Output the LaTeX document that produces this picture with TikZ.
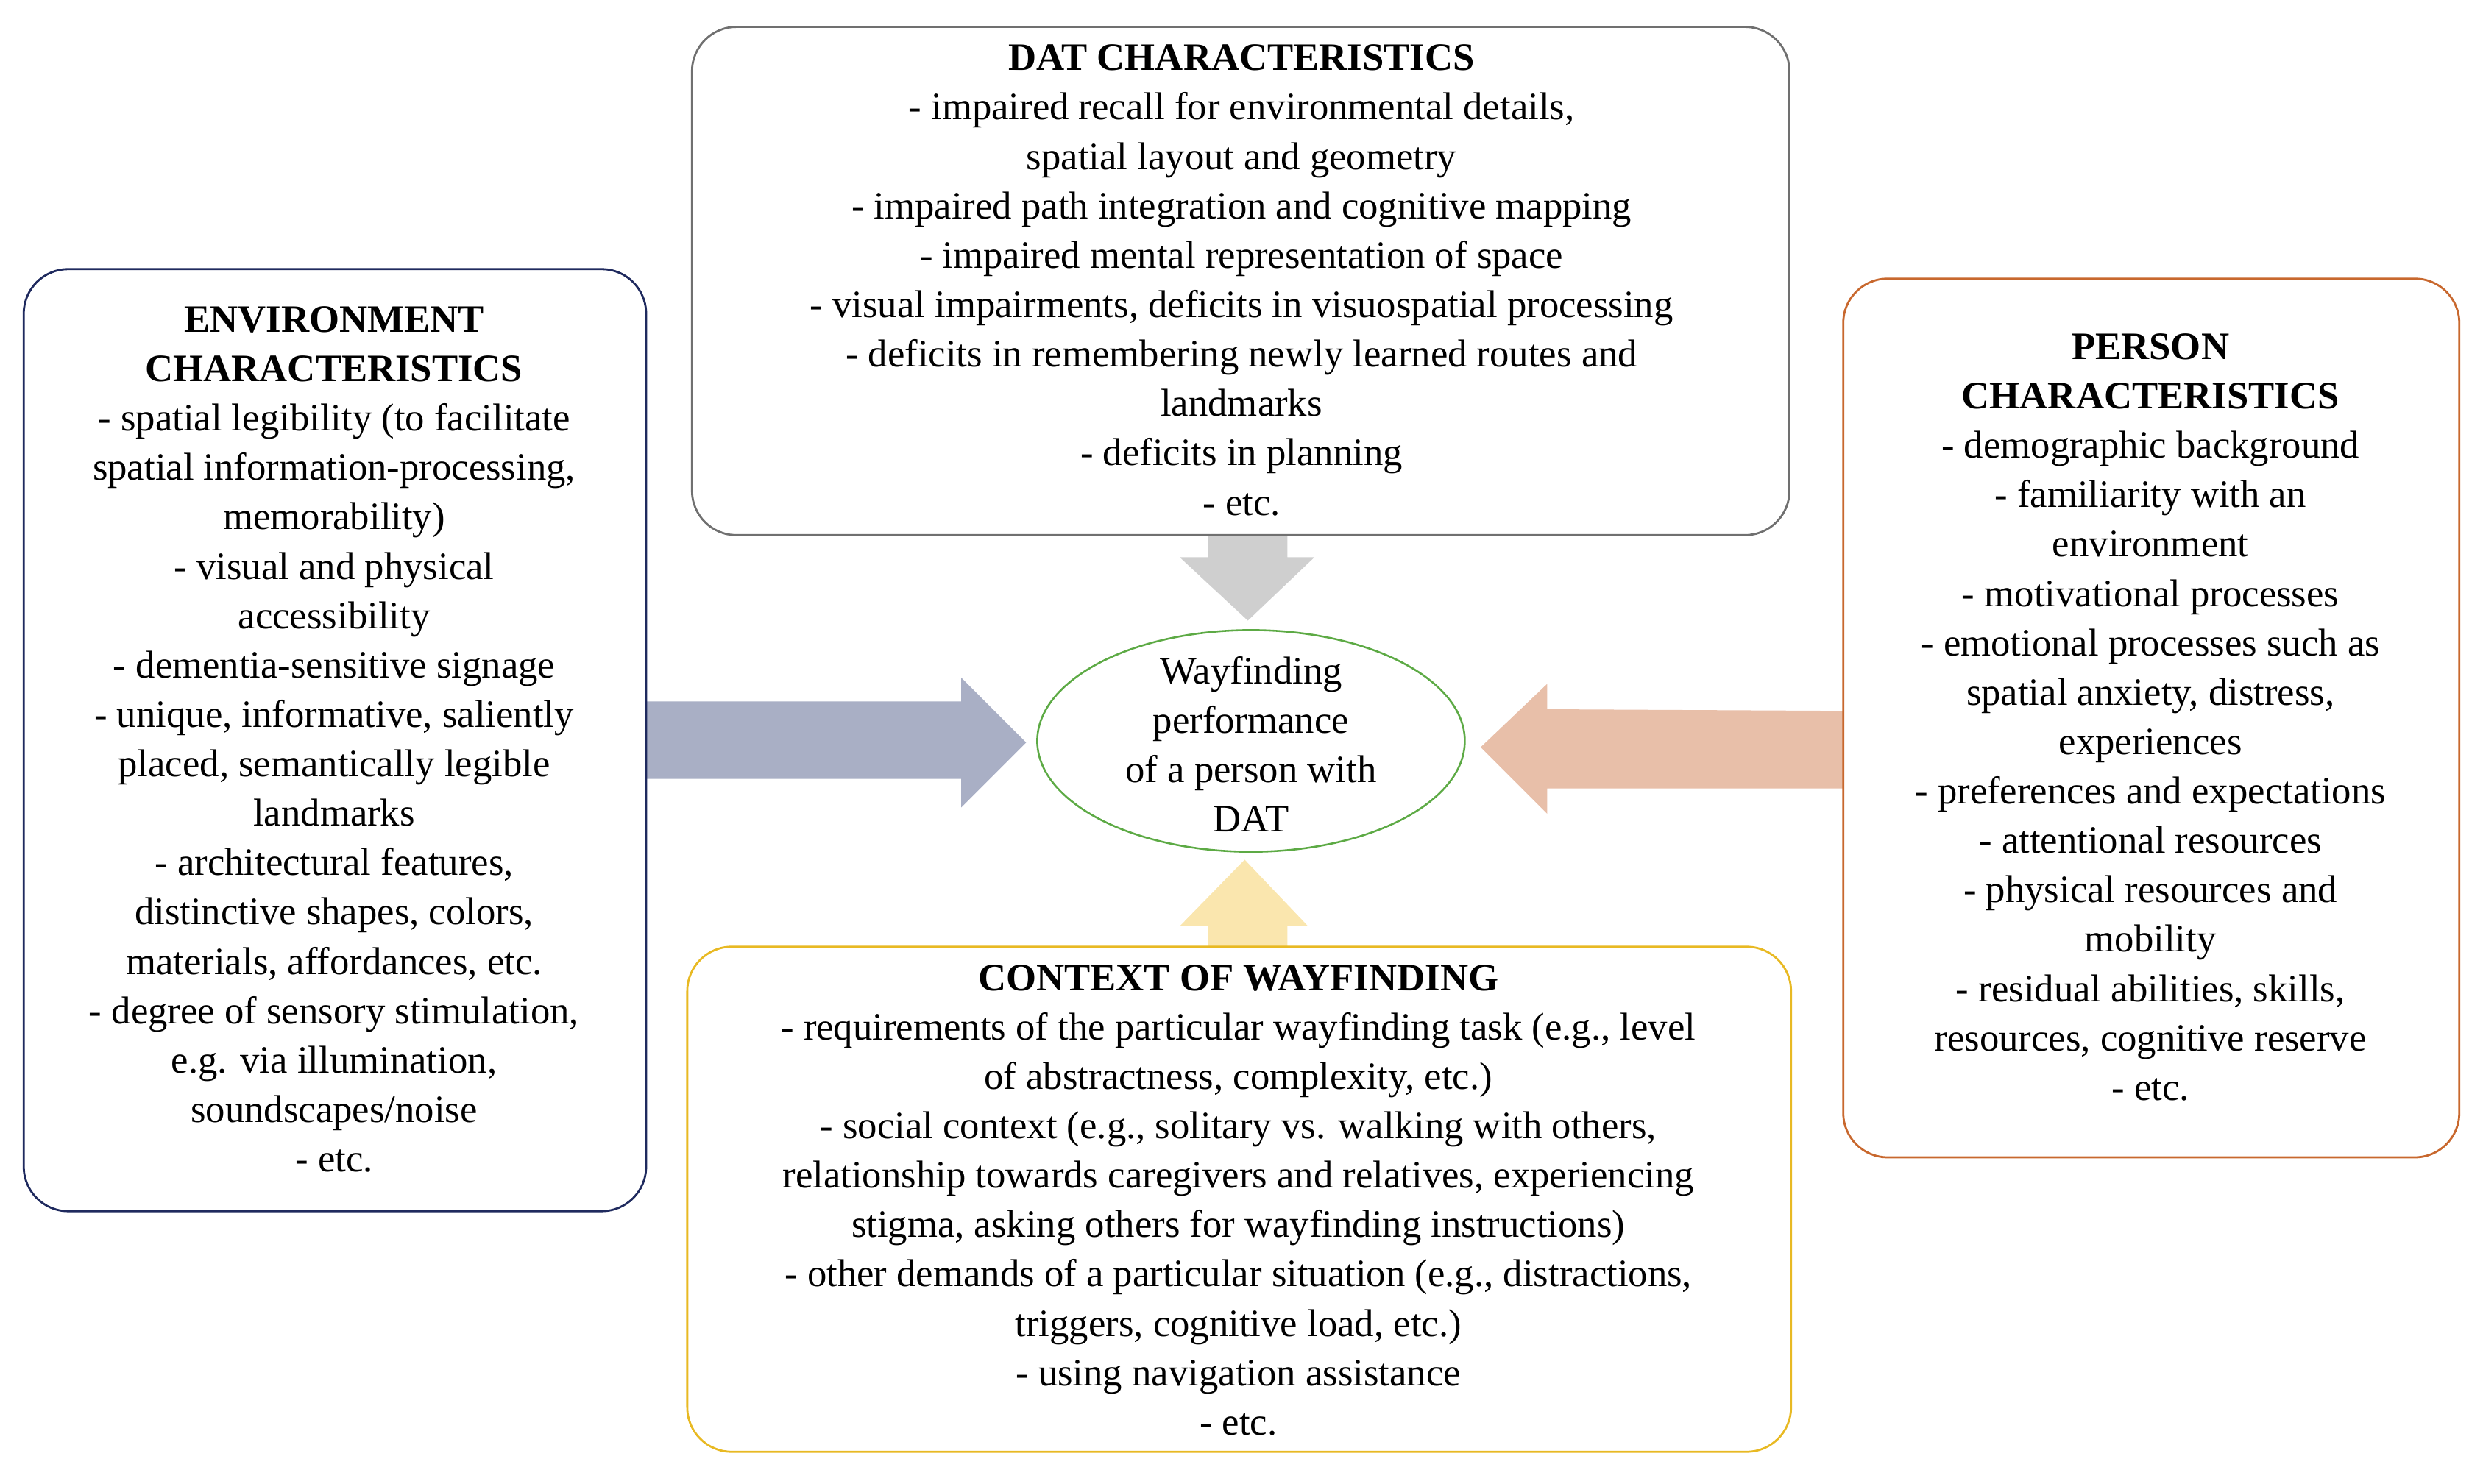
\documentclass[tikz,border=0pt]{standalone}
\usepackage{fontspec}
\setmainfont{Liberation Serif}
\begin{document}
\begin{tikzpicture}[x=1pt,y=-1pt,
 box/.style={draw,line width=1.3pt,rounded corners=28pt},
 txt/.style={align=center,font=\fontsize{24.5}{31.2}\selectfont,inner sep=0pt}]
\definecolor{envc}{HTML}{1F2A5E}
\definecolor{perc}{HTML}{C8682E}
\definecolor{ctxc}{HTML}{E8B923}
\definecolor{datc}{HTML}{707070}
\definecolor{elc}{HTML}{5DAA45}
\definecolor{arl}{HTML}{A9AFC5}
\definecolor{arr}{HTML}{E8BFA9}
\definecolor{art}{HTML}{CFCFCF}
\definecolor{arb}{HTML}{FAE6AE}
\useasboundingbox (0,0) rectangle (1568,937);
% arrows
\fill[arl] (408,443) -- (607,443) -- (607,428) -- (648,469) -- (607,510) -- (607,492) -- (408,492) -- cycle;
\fill[arr] (1164,449) -- (977,448) -- (977,432) -- (935,472) -- (977,514) -- (977,498) -- (1164,498) -- cycle;
\fill[art] (763,338) -- (813,338) -- (813,352) -- (830,352) -- (788,392) -- (745,352) -- (763,352) -- cycle;
\fill[arb] (763,598) -- (813,598) -- (813,585) -- (826,585) -- (786,543) -- (745,585) -- (763,585) -- cycle;
% boxes
\draw[box,datc] (437,17) rectangle (1130,338);
\draw[box,envc] (15,170) rectangle (408,765);
\draw[box,perc] (1164,176) rectangle (1553,731);
\draw[box,ctxc] (434,598) rectangle (1131,917);
\draw[elc,line width=1.2pt] (790,468) ellipse [x radius=135,y radius=70];
\node[txt] (el) at (790,470) {Wayfinding\\performance\\of a person with\\DAT};
\node[txt] (dat) at (784,177) {\textbf{DAT CHARACTERISTICS}\\- impaired recall for environmental details,\\spatial layout and geometry\\- impaired path integration and cognitive mapping\\- impaired mental representation of space\\- visual impairments, deficits in visuospatial processing\\- deficits in remembering newly learned routes and\\landmarks\\- deficits in planning\\- etc.};
\node[txt] (env) at (211,467) {\textbf{ENVIRONMENT}\\\textbf{CHARACTERISTICS}\\- spatial legibility (to facilitate\\spatial information-processing,\\memorability)\\- visual and physical\\accessibility\\- dementia-sensitive signage\\- unique, informative, saliently\\placed, semantically legible\\landmarks\\- architectural features,\\distinctive shapes, colors,\\materials, affordances, etc.\\- degree of sensory stimulation,\\e.g. via illumination,\\soundscapes/noise\\- etc.};
\node[txt] (per) at (1358,453) {\textbf{PERSON}\\\textbf{CHARACTERISTICS}\\- demographic background\\- familiarity with an\\environment\\- motivational processes\\- emotional processes such as\\spatial anxiety, distress,\\experiences\\- preferences and expectations\\- attentional resources\\- physical resources and\\mobility\\- residual abilities, skills,\\resources, cognitive reserve\\- etc.};
\node[txt] (ctx) at (782,758) {\textbf{CONTEXT OF WAYFINDING}\\- requirements of the particular wayfinding task (e.g., level\\of abstractness, complexity, etc.)\\- social context (e.g., solitary vs. walking with others,\\relationship towards caregivers and relatives, experiencing\\stigma, asking others for wayfinding instructions)\\- other demands of a particular situation (e.g., distractions,\\triggers, cognitive load, etc.)\\- using navigation assistance\\- etc.};
\end{tikzpicture}
\end{document}
